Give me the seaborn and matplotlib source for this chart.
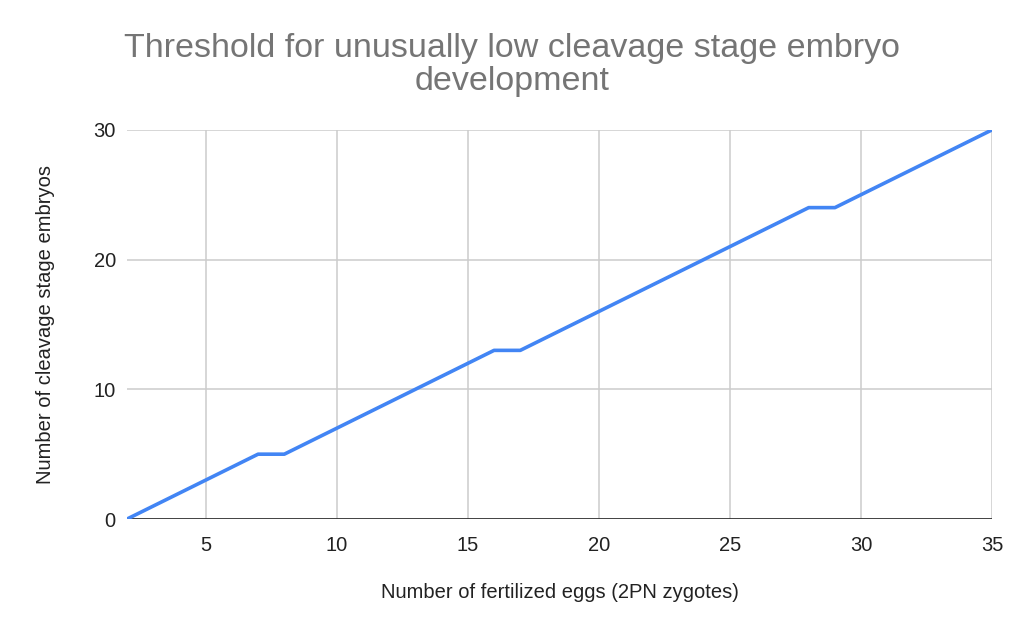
import numpy as np
import pandas as pd
import matplotlib
matplotlib.use('Agg')
import matplotlib.pyplot as plt
import seaborn as sns


fertilized_eggs = [2, 3, 4, 5, 6, 7, 8, 9, 10, 11, 12, 13, 14, 15, 16, 17, 18,
                   19, 20, 21, 22, 23, 24, 25, 26, 27, 28, 29, 30, 31, 32, 33, 34, 35]
cleavage_embryos = [0, 1, 2, 3, 4, 5, 5, 6, 7, 8, 9, 10, 11, 12, 13, 13, 14,
                    15, 16, 17, 18, 19, 20, 21, 22, 23, 24, 24, 25, 26, 27, 28, 29, 30]
x_ticks = [5, 10, 15, 20, 25, 30, 35]
y_ticks = [0, 10, 20, 30]

title = 'Threshold for unusually low cleavage stage embryo\ndevelopment'
x_label = 'Number of fertilized eggs (2PN zygotes)'
y_label = 'Number of cleavage stage embryos'


def main():

    sns.set_theme(style='white')
    plt.rcParams['font.family'] = ['Liberation Sans', 'DejaVu Sans']

    df = pd.DataFrame({'x': fertilized_eggs, 'y': cleavage_embryos})

    fig = plt.figure(figsize=(10.24, 6.33), dpi=100)
    ax = fig.add_axes([0.124, 0.180, 0.845, 0.615])

    sns.lineplot(data=df, x='x', y='y', ax=ax, color='#4285f4', linewidth=2.6,
                 solid_joinstyle='round', zorder=3)

    ax.set_xlim(2, 35)
    ax.set_ylim(0, 30)
    ax.set_xticks(x_ticks)
    ax.set_yticks(y_ticks)

    # grid
    for xv in x_ticks:
        ax.axvline(xv, color='#cccccc', linewidth=1.1, zorder=1)
    for yv in y_ticks[1:]:
        ax.axhline(yv, color='#cccccc', linewidth=1.1, zorder=1)
    ax.axhline(0, color='#333333', linewidth=1.3, zorder=2)

    for side in ['top', 'right', 'left', 'bottom']:
        ax.spines[side].set_visible(False)

    ax.tick_params(axis='both', length=0, labelsize=14.5, colors='#222222')
    ax.tick_params(axis='x', pad=12)
    ax.tick_params(axis='y', pad=8)

    ax.set_xlabel(x_label, fontsize=14.5, color='#222222', labelpad=20)
    ax.set_ylabel(y_label, fontsize=14.5, color='#222222', labelpad=28)

    fig.text(0.5, 0.898, title, ha='center', va='center', fontsize=24.5,
             color='#757575', linespacing=1.08)

    fig.savefig('out.png', dpi=100)


if __name__ == '__main__':
    main()
